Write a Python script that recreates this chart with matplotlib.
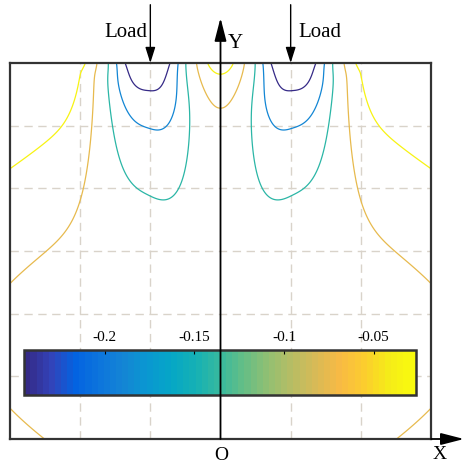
import numpy as np
import matplotlib
matplotlib.use("Agg")
import matplotlib.pyplot as plt
from matplotlib.colors import LinearSegmentedColormap, Normalize
import matplotlib.cm as cm

# parula colour anchors
parula_rgb = [
    (0.2081, 0.1663, 0.5292), (0.1959, 0.2645, 0.7279), (0.0117, 0.3875, 0.8820),
    (0.0498, 0.4586, 0.8641), (0.0793, 0.5200, 0.8312), (0.0343, 0.5966, 0.8199),
    (0.0228, 0.6535, 0.7768), (0.0843, 0.6928, 0.7062), (0.2178, 0.7250, 0.6193),
    (0.3953, 0.7459, 0.5244), (0.5709, 0.7485, 0.4494), (0.7184, 0.7411, 0.3905),
    (0.8507, 0.7299, 0.3360), (0.9739, 0.7314, 0.2666), (0.9880, 0.8066, 0.1794),
    (0.9598, 0.9218, 0.0948), (0.9763, 0.9831, 0.0538),
]
parula = LinearSegmentedColormap.from_list("parula", parula_rgb, N=64)

# data
load_x = [-1.0, 1.0]
load_text = "Load"
levels = [-0.232, -0.19, -0.14, -0.075, -0.035]
level_tone = [-0.242, -0.19, -0.14, -0.075, -0.035]
cbar_ticks = [-0.2, -0.15, -0.1, -0.05]
cbar_labels = ["-0.2", "-0.15", "-0.1", "-0.05"]
c_min, c_max = -0.245, -0.0265
x_lim = (-3, 3)
y_lim = (0, 6)

# field constants (matched to the contour lines of the picture)
c0, A, t0, n_dec, dc = -0.0193906, 0.246063, 12.2825, 8.22087, 3.21984
s0, ka, q, rin, shift = 0.5076, 0.0311227, 2.94281, 0.937546, 1.02909
B, db, r = 0.121821, 1.18021, 1.21818
W0, W1, W2, l1 = 2.28563, -1.21976, 0.477627, 0.641714
R, ly, lx = 0.0688985, 1.67253, 2.55534


def field(x, d):
    # load bulbs
    a = A * (t0 / (d + t0)) ** n_dec * np.exp(-(d / dc) ** 4)
    sig = np.sqrt(s0 ** 2 + 2 * ka * d)
    K = 0
    for xl in load_x:
        X = x - xl * shift
        sg = np.where(X * xl < 0, sig * rin, sig)
        K = K + a * np.exp(-(np.abs(X) / sg) ** q / 2)
    # spread part
    h = 1 - np.exp(-(d / db) ** r)
    W = W0 + W1 * d + W2 * d * d
    l = np.maximum(0.02 + l1 * d, 0.12)
    bg = B * h / (1 + np.exp(np.clip((np.abs(x) - W) / l, -50, 50)))
    # relief at the lower corners
    rel = R * np.exp(-(6 - d) / ly) * np.exp(-(3 - np.abs(x)) / lx)
    return c0 - K - bg + rel


xs = np.linspace(-3, 3, 361)
ys = np.linspace(0, 6, 361)
X, Y = np.meshgrid(xs, ys)
F = field(X, 6 - Y)

plt.rcParams["font.family"] = ["Liberation Serif", "DejaVu Serif"]
fig = plt.figure(figsize=(4.64, 4.63), dpi=100)
W_, H_ = 464, 463
rect = [10 / W_, (H_ - 439) / H_, 421 / W_, 376 / H_]
ax = fig.add_axes(rect)
ax.set_xlim(*x_lim)
ax.set_ylim(*y_lim)
ax.set_xticks([-2, -1, 1, 2])
ax.set_yticks([1, 2, 3, 4, 5])
ax.tick_params(length=0, labelleft=False, labelbottom=False)
ax.grid(True, color="#d9d3ca", ls=(0, (6, 4)), lw=1.0)
ax.set_axisbelow(True)
for s in ax.spines.values():
    s.set_color("#333333")
    s.set_linewidth(1.6)

norm = Normalize(vmin=c_min, vmax=c_max)
line_colors = [parula(norm(v)) for v in level_tone]
ax.contour(X, Y, F, levels=levels, colors=line_colors, linewidths=0.9)

# colorbar inside the plot
cax = fig.add_axes([24.3 / W_, (H_ - 395.3) / H_, 391.4 / W_, 45.6 / H_])
sm = cm.ScalarMappable(norm=norm, cmap=parula)
cb = fig.colorbar(sm, cax=cax, orientation="horizontal", ticks=cbar_ticks)
cb.ax.set_xticklabels(cbar_labels)
cb.ax.xaxis.set_ticks_position("top")
cb.ax.tick_params(direction="in", length=3, width=0.8, labelsize=11, pad=4)
cb.outline.set_edgecolor("#333333")
cb.outline.set_linewidth(1.8)

# overlay for axes arrows and labels
top = fig.add_axes(rect, zorder=5)
top.set_xlim(*x_lim)
top.set_ylim(*y_lim)
top.axis("off")
big = dict(arrowstyle="-|>,head_length=1.4,head_width=0.36", color="k",
           lw=1.3, shrinkA=0, shrinkB=0, mutation_scale=10)
small = dict(arrowstyle="-|>,head_length=0.95,head_width=0.3", color="k",
             lw=1.0, shrinkA=0, shrinkB=0, mutation_scale=10)
top.annotate("", xy=(0, 6.72), xytext=(0, 0), arrowprops=big,
             annotation_clip=False)
top.annotate("", xy=(3.47, 0), xytext=(3.0, 0), arrowprops=big,
             annotation_clip=False)
for xl in load_x:
    top.annotate("", xy=(xl, 6.0), xytext=(xl, 6.93), arrowprops=small,
                 annotation_clip=False)
top.text(load_x[0] - 0.04, 6.415, load_text, ha="right", va="baseline",
         fontsize=15, clip_on=False)
top.text(load_x[1] + 0.11, 6.415, load_text, ha="left", va="baseline",
         fontsize=15, clip_on=False)
top.text(0.1, 6.24, "Y", ha="left", va="baseline", fontsize=15, clip_on=False)
top.text(0.01, -0.34, "O", ha="center", va="baseline", fontsize=14,
         clip_on=False)
top.text(3.12, -0.32, "X", ha="center", va="baseline", fontsize=14,
         clip_on=False)

fig.savefig("out.png", dpi=100)
